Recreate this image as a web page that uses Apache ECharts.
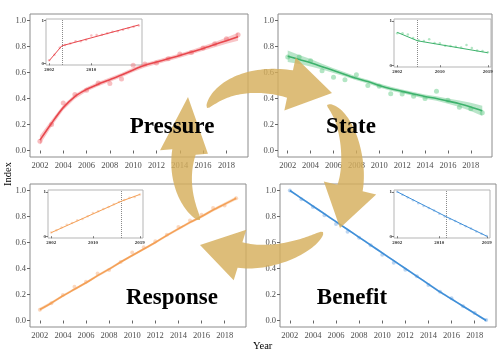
<!DOCTYPE html>
<html><head><meta charset="utf-8">
<script src="https://cdn.jsdelivr.net/npm/echarts@6/dist/echarts.min.js"></script>
<style>html,body{margin:0;padding:0;background:#fff}#c{width:500px;height:353px}</style>
</head><body><div id="c"></div>
<script>
// ---------- data ----------
const years = [2002,2003,2004,2005,2006,2007,2008,2009,2010,2011,2012,2013,2014,2015,2016,2017,2018,2019];
const xTicks = [2002,2004,2006,2008,2010,2012,2014,2016,2018];
const yTicks = [0,0.2,0.4,0.6,0.8,1.0];

const pressureObs  = [0.072,0.20,0.366,0.43,0.463,0.52,0.515,0.55,0.655,0.665,0.673,0.706,0.742,0.754,0.788,0.821,0.859,0.89];
const pressureFit  = [0.08,0.21,0.33,0.415,0.47,0.51,0.545,0.58,0.62,0.655,0.68,0.705,0.73,0.757,0.785,0.815,0.845,0.875];
const pressureLow  = [0.045,0.185,0.31,0.397,0.453,0.494,0.529,0.564,0.604,0.639,0.664,0.689,0.714,0.74,0.767,0.795,0.821,0.845];
const pressureHigh = [0.115,0.235,0.35,0.433,0.487,0.526,0.561,0.596,0.636,0.671,0.696,0.721,0.746,0.774,0.803,0.835,0.869,0.905];

const stateObs  = [0.719,0.719,0.69,0.614,0.563,0.545,0.583,0.50,0.494,0.437,0.435,0.417,0.40,0.455,0.386,0.332,0.322,0.29];
const stateFit  = [0.725,0.70,0.675,0.645,0.615,0.585,0.555,0.53,0.50,0.475,0.455,0.435,0.415,0.40,0.38,0.36,0.335,0.305];
const stateLow  = [0.68,0.665,0.647,0.623,0.597,0.569,0.54,0.515,0.485,0.46,0.44,0.42,0.399,0.382,0.36,0.335,0.303,0.265];
const stateHigh = [0.77,0.735,0.703,0.667,0.633,0.601,0.57,0.545,0.515,0.49,0.47,0.45,0.431,0.418,0.40,0.385,0.367,0.345];

const responseObs  = [0.082,0.133,0.196,0.26,0.298,0.362,0.388,0.45,0.523,0.564,0.61,0.66,0.72,0.77,0.814,0.865,0.885,0.94];
const responseFit  = [0.085,0.135,0.19,0.24,0.29,0.345,0.395,0.45,0.50,0.55,0.60,0.655,0.705,0.755,0.80,0.85,0.895,0.94];
const responseLow  = [0.072,0.124,0.18,0.23,0.28,0.335,0.385,0.44,0.49,0.54,0.59,0.645,0.695,0.745,0.789,0.838,0.882,0.926];
const responseHigh = [0.098,0.146,0.20,0.25,0.30,0.355,0.405,0.46,0.51,0.56,0.61,0.665,0.715,0.765,0.811,0.862,0.908,0.954];

const benefitObs  = [1.0,0.933,0.873,0.81,0.742,0.682,0.636,0.579,0.506,0.444,0.39,0.341,0.274,0.222,0.171,0.109,0.057,0.003];
const benefitFit  = [1.0,0.94,0.88,0.82,0.76,0.70,0.64,0.58,0.52,0.46,0.40,0.34,0.28,0.22,0.165,0.11,0.055,0.0];
const benefitLow  = [0.992,0.932,0.872,0.812,0.752,0.692,0.632,0.572,0.512,0.452,0.392,0.332,0.272,0.212,0.157,0.102,0.047,-0.008];
const benefitHigh = [1.008,0.948,0.888,0.828,0.768,0.708,0.648,0.588,0.528,0.468,0.408,0.348,0.288,0.228,0.173,0.118,0.063,0.008];

// inset piecewise fits: [year, value]
const pressureSegYears = [2002,2004.4,2019], pressureSegVals = [0.06,0.41,0.90];
const stateSegYears    = [2002,2005.8,2019], stateSegVals    = [0.74,0.55,0.28];
const responseSegYears = [2002,2015.5,2019], responseSegVals = [0.08,0.79,0.94];
const benefitSegYears  = [2002,2011.3,2019], benefitSegVals  = [1.0,0.44,0.0];
const insetXTicksA = [2002,2010];
const insetXTicksB = [2002,2010,2019];
const insetYTicks = [0,1];

const panelNames = ['Pressure','State','Response','Benefit'];

// ---------- layout / style ----------
const SERIF = 'Liberation Serif';
const mainGrids = [
  {left:30, top:14, width:218, height:143},
  {left:278, top:14, width:214, height:143},
  {left:30, top:184, width:216, height:143},
  {left:280, top:184, width:216, height:143}
];
const insetGrids = [
  {left:46, top:19, width:96, height:46},
  {left:394, top:19, width:97, height:48},
  {left:48, top:190, width:95, height:48},
  {left:394, top:190, width:96, height:48}
];
const panels = [
  {obs:pressureObs, fit:pressureFit, lo:pressureLow, hi:pressureHigh, segX:pressureSegYears, segY:pressureSegVals, ticks:insetXTicksA,
   line:'#E8474D', band:'rgba(236,90,95,0.35)', pt:'rgba(240,120,125,0.6)', ps:5},
  {obs:stateObs, fit:stateFit, lo:stateLow, hi:stateHigh, segX:stateSegYears, segY:stateSegVals, ticks:insetXTicksB,
   line:'#3DB26C', band:'rgba(80,190,120,0.4)', pt:'rgba(120,210,150,0.7)', ps:5},
  {obs:responseObs, fit:responseFit, lo:responseLow, hi:responseHigh, segX:responseSegYears, segY:responseSegVals, ticks:insetXTicksB,
   line:'#F4A057', band:'rgba(244,160,87,0.35)', pt:'rgba(246,175,125,0.6)', ps:4},
  {obs:benefitObs, fit:benefitFit, lo:benefitLow, hi:benefitHigh, segX:benefitSegYears, segY:benefitSegVals, ticks:insetXTicksB,
   line:'#3F8FD8', band:'rgba(70,140,215,0.35)', pt:'rgba(120,170,225,0.6)', ps:4}
];
const breakYears = panels.map(p => p.segX[1]);

const grid = [], xAxis = [], yAxis = [], series = [];
mainGrids.forEach((g,i) => {
  grid.push(Object.assign({show:true, borderColor:'#8c8c8c', borderWidth:1, backgroundColor:'transparent', containLabel:false}, g));
  xAxis.push({type:'value', gridIndex:i, min:2001.15, max:2019.85,
    axisLine:{show:false}, splitLine:{show:false},
    axisTick:{show:true, length:3, lineStyle:{color:'#666'}, customValues:xTicks},
    axisLabel:{show:true, customValues:xTicks, fontFamily:SERIF, fontSize:8.5, color:'#4d4d4d', margin:4,
      formatter:v => String(Math.round(v))}});
  yAxis.push({type:'value', gridIndex:i, min:-0.05, max:1.05,
    axisLine:{show:false}, splitLine:{show:false},
    axisTick:{show:true, length:3, lineStyle:{color:'#666'}, customValues:yTicks},
    axisLabel:{show:true, customValues:yTicks, fontFamily:SERIF, fontSize:8.5, color:'#4d4d4d', margin:4,
      formatter:v => Number(v).toFixed(1)}});
});
insetGrids.forEach((g,j) => {
  const i = 4 + j;
  grid.push(Object.assign({show:true, borderColor:'#b5b5b5', borderWidth:1, backgroundColor:'#fff', containLabel:false}, g));
  xAxis.push({type:'value', gridIndex:i, min:2001.4, max:2019.6,
    axisLine:{show:false}, splitLine:{show:false},
    axisTick:{show:true, length:2, lineStyle:{color:'#777'}, customValues:panels[j].ticks},
    axisLabel:{show:true, customValues:panels[j].ticks, fontFamily:SERIF, fontWeight:'bold', fontSize:5, color:'#333', margin:2,
      formatter:v => String(Math.round(v))}});
  yAxis.push({type:'value', gridIndex:i, min:-0.04, max:1.04,
    axisLine:{show:false}, splitLine:{show:false},
    axisTick:{show:true, length:2, lineStyle:{color:'#777'}, customValues:insetYTicks},
    axisLabel:{show:true, customValues:insetYTicks, fontFamily:SERIF, fontWeight:'bold', fontSize:5, color:'#333', margin:2,
      formatter:v => String(Math.round(v))}});
});

panels.forEach((p,i) => {
  // scatter points
  series.push({type:'scatter', xAxisIndex:i, yAxisIndex:i, symbolSize:p.ps, silent:true,
    itemStyle:{color:p.pt}, data:years.map((y,k)=>[y,p.obs[k]]), z:2});
  // confidence band (polygon through the axis scales)
  series.push({type:'custom', xAxisIndex:i, yAxisIndex:i, silent:true, z:3,
    data:years.map((y,k)=>[y,p.lo[k],p.hi[k]]),
    encode:{x:0, y:[1,2]},
    renderItem:(params, api) => {
      if (params.dataIndex !== 0) return null;
      const up = years.map((y,k)=>api.coord([y,p.hi[k]]));
      const dn = years.map((y,k)=>api.coord([y,p.lo[k]])).reverse();
      return {type:'polygon', shape:{points:up.concat(dn)}, style:{fill:p.band}};
    }});
  // fitted line
  series.push({type:'line', xAxisIndex:i, yAxisIndex:i, symbol:'none', smooth:0.3, silent:true,
    lineStyle:{color:p.line, width:1.6}, data:years.map((y,k)=>[y,p.fit[k]]), z:4});
  // inset
  const j = 4 + i;
  series.push({type:'scatter', xAxisIndex:j, yAxisIndex:j, symbolSize:2.5, silent:true,
    itemStyle:{color:p.pt}, data:years.map((y,k)=>[y,p.obs[k]]), z:5});
  series.push({type:'line', xAxisIndex:j, yAxisIndex:j, symbol:'none', silent:true,
    lineStyle:{color:p.line, width:1}, data:p.segX.map((y,k)=>[y,p.segY[k]]), z:6,
    markLine:{silent:true, symbol:['none','none'], label:{show:false},
      lineStyle:{type:'dotted', color:'#8a8a8a', width:1},
      data:[{xAxis:breakYears[i]}]}});
});

// ---------- cycle arrows (decoration) ----------
function arrowPoly(p0,p1,p2,p3,bw,hh,tip){
  const L=[], R=[], N=40;
  for(let i=0;i<=N;i++){
    const t=i/N, u=1-t;
    const x=u*u*u*p0[0]+3*u*u*t*p1[0]+3*u*t*t*p2[0]+t*t*t*p3[0];
    const y=u*u*u*p0[1]+3*u*u*t*p1[1]+3*u*t*t*p2[1]+t*t*t*p3[1];
    const dx=3*u*u*(p1[0]-p0[0])+6*u*t*(p2[0]-p1[0])+3*t*t*(p3[0]-p2[0]);
    const dy=3*u*u*(p1[1]-p0[1])+6*u*t*(p2[1]-p1[1])+3*t*t*(p3[1]-p2[1]);
    const len=Math.hypot(dx,dy)||1;
    const nx=-dy/len, ny=dx/len;
    const w=bw/2*Math.pow(t,0.55);
    L.push([x+nx*w,y+ny*w]); R.push([x-nx*w,y-ny*w]);
  }
  const dx=tip[0]-p3[0], dy=tip[1]-p3[1], len=Math.hypot(dx,dy);
  const mx=-dy/len, my=dx/len;
  return L.concat([[p3[0]+mx*hh,p3[1]+my*hh], tip, [p3[0]-mx*hh,p3[1]-my*hh]], R.reverse());
}
const arrowDefs = [
  {p:[[207,108],[220,86],[253,76],[290,84]], bw:28, hh:27, tip:[332,93]},
  {p:[[327,105],[347,113],[357,160],[350,188]], bw:26, hh:27, tip:[340,228]},
  {p:[[323,232],[310,246],[272,261],[240,255]], bw:26, hh:26, tip:[200,245]},
  {p:[[200,220],[186,205],[178,178],[184,152]], bw:24, hh:24, tip:[188,97]}
];
const graphics = arrowDefs.map(a => ({type:'polygon', z:50, silent:true,
  shape:{points:arrowPoly(a.p[0],a.p[1],a.p[2],a.p[3],a.bw,a.hh,a.tip)},
  style:{fill:'#D5AE5C', opacity:0.82}}));

const labelPos = [[172,127],[351,127],[172,298],[352,298]];
panelNames.forEach((n,i) => graphics.push({type:'text', z:60, silent:true, x:labelPos[i][0], y:labelPos[i][1],
  style:{text:n, font:'bold 23px "Liberation Serif"', fill:'#000', textAlign:'center', textVerticalAlign:'middle', align:'center', verticalAlign:'middle'}}));
graphics.push({type:'text', z:60, silent:true, x:8, y:174, rotation:Math.PI/2,
  style:{text:'Index', font:'10.5px "Liberation Serif"', fill:'#000', textAlign:'center', textVerticalAlign:'middle', align:'center', verticalAlign:'middle'}});
graphics.push({type:'text', z:60, silent:true, x:253, y:346,
  style:{text:'Year', font:'10.5px "Liberation Serif"', fill:'#000', textAlign:'left', textVerticalAlign:'middle', align:'left', verticalAlign:'middle'}});

const chart = echarts.init(document.getElementById('c'), null, {renderer:'canvas'});
chart.setOption({animation:false, backgroundColor:'#fff', grid, xAxis, yAxis, series, graphic:{elements:graphics}});
</script></body></html>
